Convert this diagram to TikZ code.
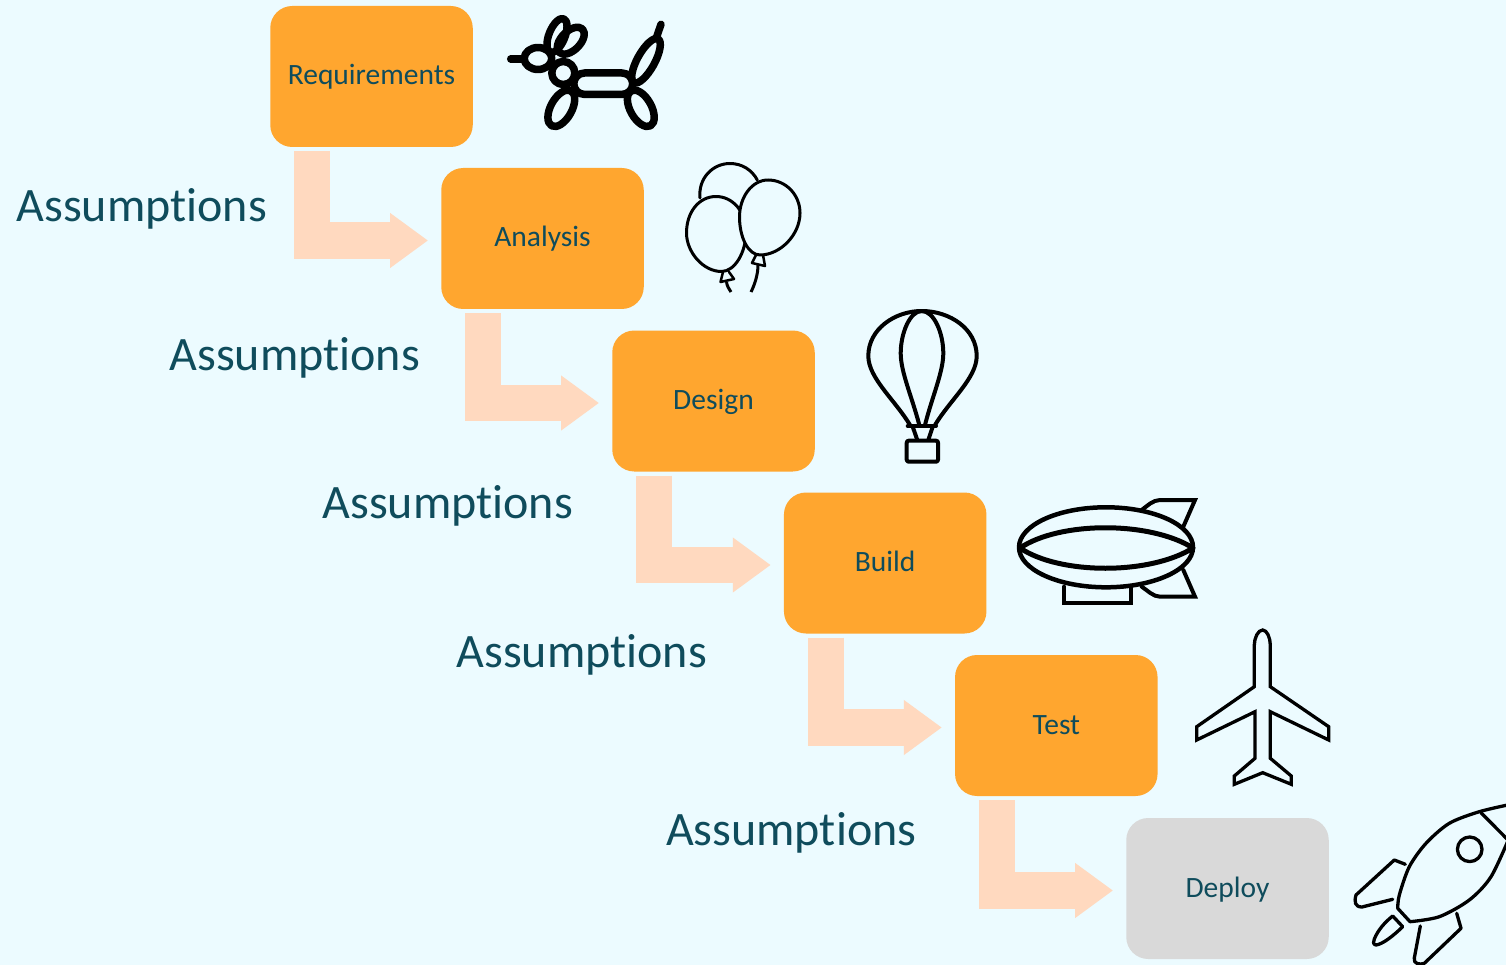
\documentclass[tikz,border=0pt]{standalone}
\usepackage{fontspec}
\setmainfont[Ligatures=NoCommon]{Carlito}
\usetikzlibrary{arrows.meta}
\definecolor{pageBlue}{HTML}{ECFBFF}
\definecolor{stageOrange}{HTML}{FFA62F}
\definecolor{arrowPeach}{HTML}{FFD9BF}
\definecolor{stageGray}{HTML}{D9D9D9}
\definecolor{textTeal}{HTML}{0F4C5C}

\begin{document}
\begin{tikzpicture}
[x=1pt,y=-1pt,
  stageDecorate/.style={shape=rectangle,rounded corners=22pt,minimum width=202.5pt,
    minimum height=141pt,inner sep=0pt,text height=23pt,text depth=6pt,text=textTeal,
    font=\fontsize{29.5}{34}\selectfont},%
  noteDecorate/.style={inner sep=0pt,text=textTeal,font=\fontsize{48}{56}\selectfont},%
  arrowDecorate/.style={draw=arrowPeach,line width=36.5pt,line cap=butt,shorten <=4pt,shorten >=13pt,
    -{Triangle[width=52.5pt,length=38pt,fill=arrowPeach]}},%
  iconDecorate/.style={draw=black,line join=round,line cap=round}]
\useasboundingbox (0,0) rectangle (1506,965);
\fill[pageBlue] (0,0) rectangle (1506,965);
%% stages
\foreach \nodename/\x/\y/\shade/\stagetext in {
  req/371.5/76.5/stageOrange/Requirements, ana/542.5/238.5/stageOrange/Analysis,
  des/713.5/401/stageOrange/Design, bui/885.2/563/stageOrange/Build,
  tes/1056.3/725.5/stageOrange/Test, dep/1227.5/888.5/stageGray/Deploy}
{
  \node (\nodename) at (\x,\y) [stageDecorate,fill=\shade] {\stagetext};
}
%% assumptions
\foreach \nodename/\x/\y in {
  note1/141.8/208.5, note2/294.8/357.5, note3/447.8/505.5, note4/581.8/654.5, note5/791.2/832.5}
{
  \node (\nodename) at (\x,\y) [noteDecorate] {Assumptions};
}
%% bent arrows
\foreach \startnode/\endnode in {req/ana, ana/des, des/bui, bui/tes, tes/dep}
{
  \draw[arrowDecorate] ([xshift=-59.3pt]\startnode.south) |- ([yshift=-2pt]\endnode.west);
}
%% balloon dog
\foreach \cx/\cy/\rx/\ry/\ang in {
  538/58.5/13.8/11/0, 557/35.5/18/8/68, 570.8/40.7/16.5/9.5/45, 563.3/73/11.5/11.5/0,
  561.3/108.3/20/10.6/61, 640.8/108.3/20/10.6/-61, 646/60.8/25/8.7/61}
{
  \draw[iconDecorate,line width=7.5pt,rotate around={\ang:(\cx,\cy)}] (\cx,\cy) ellipse [x radius=\rx,y radius=\ry];
}
\draw[iconDecorate,line width=7.5pt] (584.5,73) -- (622,73) arc (-90:90:10.7) -- (584.5,94.4) arc (90:270:10.7);
\draw[iconDecorate,line width=7.5pt] (510.7,59) -- (523,59);
\draw[iconDecorate,line width=7.5pt] (656.7,36.7) -- (661,24.3);
%% balloons
\draw[iconDecorate,line width=3pt] (700,198) .. controls (698,178) and (713,163.5) .. (730,163.5) .. controls (742,163.5) and (752,170) .. (757.3,180);
\draw[iconDecorate,line width=3pt,fill=pageBlue] (716,196.5) .. controls (733,196.5) and (746,212) .. (746,232) .. controls (746,252) and (735,271.5) .. (721.5,271.5) .. controls (703,271.5) and (686.5,252) .. (686.5,233) .. controls (686.5,212) and (699,196.5) .. (716,196.5) -- cycle;
\draw[iconDecorate,line width=3pt,fill=pageBlue] (768,180) .. controls (786,180) and (800,195) .. (800,213) .. controls (800,235) and (780,255) .. (760,255) .. controls (748,255) and (739.5,237) .. (739.5,217) .. controls (739.5,197) and (752,180) .. (768,180) -- cycle;
\draw[iconDecorate,line width=2.5pt] (723,272) -- (720.5,282) -- (734,279) -- (729,272);
\draw[iconDecorate,line width=2.5pt] (756,255) -- (752,263) -- (765,266) -- (763,255);
\draw[iconDecorate,line width=3pt,line cap=butt] (726.5,282) .. controls (727,286) and (729,289) .. (731,292);
\draw[iconDecorate,line width=3pt,line cap=butt] (758,265) .. controls (758,274) and (755,284) .. (751,292);
%% hot air balloon
\draw[iconDecorate,line width=4pt] (910,425) .. controls (895,400) and (868.3,378) .. (868.3,356) .. controls (868.3,329) and (895,311) .. (921.7,311) .. controls (950,311) and (976.7,329) .. (976.7,356) .. controls (976.7,378) and (950,400) .. (935,425);
\draw[iconDecorate,line width=4pt] (919.3,425) .. controls (912,397) and (900.7,372) .. (900.7,353.3) .. controls (900.7,333) and (910,311) .. (921.7,311) .. controls (934,311) and (943.3,333) .. (943.3,353.3) .. controls (943.3,372) and (932,397) .. (925,425);
\draw[iconDecorate,line width=4pt] (907.7,426) -- (936,426);
\draw[iconDecorate,line width=4pt] (912.7,426.7) -- (917.3,440);
\draw[iconDecorate,line width=4pt] (932.7,426.7) -- (928.3,440);
\draw[iconDecorate,line width=4pt,rounded corners=2pt] (906.7,440.7) -- (938,440.7) -- (938,461.7) -- (906.7,461.7) -- cycle;
%% airship
\draw[iconDecorate,line width=4pt,line join=miter] (1141.7,510) .. controls (1147,506) and (1153,500) .. (1160,500) -- (1195,500) -- (1183.3,526.7);
\draw[iconDecorate,line width=4pt,line join=miter] (1141.7,586.7) .. controls (1147,590) and (1153,596.7) .. (1160,596.7) -- (1195,596.7) -- (1183.3,570);
\draw[iconDecorate,line width=4pt,line join=miter] (1064,586.7) -- (1064,602.7) -- (1130.7,602.7) -- (1130.7,586.7);
\draw[iconDecorate,line width=4.5pt] (1106,547.3) ellipse [x radius=87,y radius=40];
\draw[iconDecorate,line width=5pt] (1020,548) .. controls (1060,521) and (1150,521) .. (1193,548) .. controls (1150,575) and (1060,575) .. (1020,548) -- cycle;
%% airplane
\draw[iconDecorate,line width=3.3pt,line join=miter] (1262.7,630) .. controls (1258,630) and (1254.3,638) .. (1254.3,645)
  -- (1254.3,686.7) -- (1196.7,726.7) -- (1196.7,740) -- (1255,711.7) -- (1255,758.3) -- (1234.3,776) -- (1234.3,784.3)
  -- (1262.7,772.7) -- (1291.3,784.3) -- (1291.3,776) -- (1270.3,758.3) -- (1270.3,711.7) -- (1328.7,740) -- (1328.7,726.7)
  -- (1270.3,686.7) -- (1270.3,645) .. controls (1270.3,638) and (1267,630) .. (1262.7,630) -- cycle;
%% rocket
\draw[iconDecorate,line width=3.3pt] plot[smooth] coordinates {(1510,804.5) (1479.3,811.7) (1449.3,823.3) (1426,843.3) (1409.3,866.7) (1399.3,895) (1397.7,908.3)}
  -- plot[smooth] coordinates {(1410,921.7) (1439.3,916.7) (1469.3,900) (1491,876.7) (1510,836)};
\draw[iconDecorate,line width=3.3pt] (1481,812.7) -- (1510,842);
\draw[iconDecorate,line width=3.3pt] (1469.7,849.3) circle [radius=12.3];
\draw[iconDecorate,line width=3.3pt] (1405.3,864.3) -- (1394.3,860) -- (1356,895) .. controls (1354,902) and (1355,907) .. (1362,907) -- (1392.7,899.3);
\draw[iconDecorate,line width=3.3pt] (1456.7,913.3) -- (1461,928.3) -- (1424.3,963.3) .. controls (1420,965) and (1413,964) .. (1414.3,958) -- (1420.3,926);
\draw[iconDecorate,line width=3.3pt] (1392.7,916) -- (1402.7,926.7) .. controls (1393,936) and (1383,944) .. (1376,945) .. controls (1373,945) and (1373,941) .. (1374.3,939) .. controls (1378,930) and (1385,922) .. (1392.7,916) -- cycle;
\end{tikzpicture}
\end{document}
